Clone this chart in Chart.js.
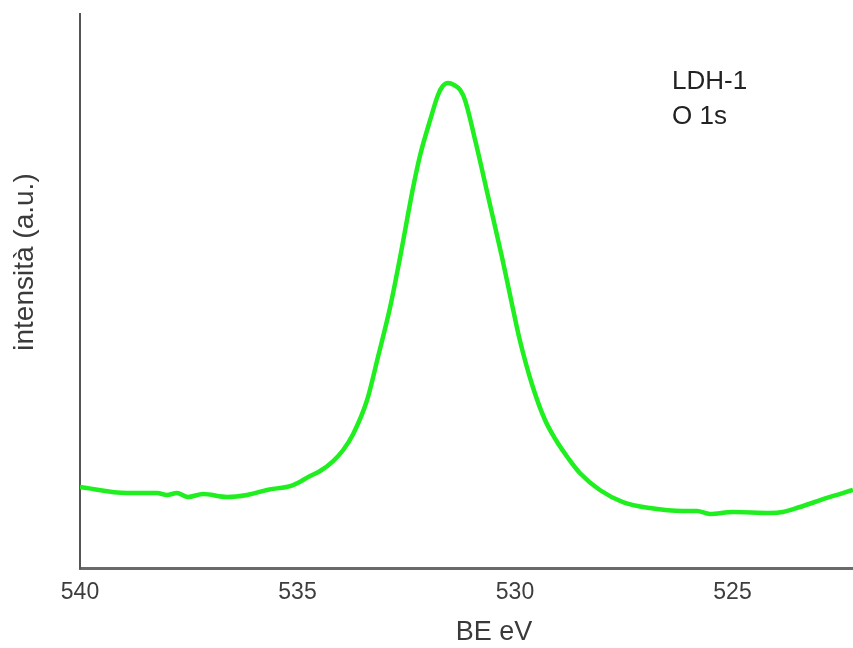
<!DOCTYPE html>
<html>
<head>
<meta charset="utf-8">
<script src="https://cdn.jsdelivr.net/npm/chart.js@4"></script>
<style>
  html, body { margin: 0; padding: 0; background: #fff; }
  #wrap { width: 853px; height: 648px; }
</style>
</head>
<body>
<div id="wrap"><canvas id="c" width="853" height="648"></canvas></div>
<script>
// Binding energy (eV) and intensity (a.u.)
const bindingEnergy = [540.00, 538.92, 538.23, 538.00, 537.77, 537.52, 537.17, 536.62, 536.16, 535.70,
  535.10, 534.71, 534.48, 534.18, 533.95, 533.72, 533.40, 533.15, 532.87, 532.64,
  532.34, 532.18, 531.95, 531.77, 531.66, 531.54, 531.40, 531.26, 531.15, 530.90,
  530.60, 530.30, 530.09, 529.89, 529.59, 529.31, 529.06,
  528.78, 528.51, 528.05, 527.52, 526.90, 526.14, 525.82, 525.52, 524.99, 524.14,
  523.84, 523.45, 522.83, 522.23];
const intensity = [14.62, 13.54, 13.54, 13.18, 13.54, 12.82, 13.36, 12.82, 13.18, 14.08,
  14.98, 16.61, 17.51, 19.31, 21.30, 24.19, 30.32, 38.09, 47.11, 56.14,
  68.77, 74.55, 80.87, 85.38, 87.00, 87.55, 87.18, 86.28, 84.48, 76.71,
  66.43, 56.14, 48.38, 41.16, 32.67, 26.71, 23.10,
  19.86, 17.15, 14.08, 11.91, 10.83, 10.29, 10.29, 9.75, 10.11, 9.93,
  10.11, 11.01, 12.64, 14.08];
const xTickValues = [540, 535, 530, 525];
const xRange = [522.23, 540];
const xTitle = 'BE eV';
const yTitle = 'intensità (a.u.)';
const annotationLines = ['LDH-1', 'O 1s'];

const FONT = "'Liberation Sans', Arial, Helvetica, sans-serif";

const textPlugin = {
  id: 'textPlugin',
  afterDraw(chart) {
    const ctx = chart.ctx;
    ctx.save();
    ctx.fillStyle = '#3a3a3a';
    ctx.font = '28px ' + FONT;
    ctx.textAlign = 'center';
    ctx.textBaseline = 'middle';
    ctx.translate(25, 262);
    ctx.rotate(-Math.PI / 2);
    ctx.fillText(yTitle, 0, 0);
    ctx.restore();

    ctx.save();
    ctx.fillStyle = '#3a3a3a';
    ctx.font = '27px ' + FONT;
    ctx.textAlign = 'center';
    ctx.textBaseline = 'middle';
    ctx.fillText(xTitle, 494, 633);
    ctx.restore();

    ctx.save();
    ctx.fillStyle = '#222';
    ctx.font = '26px ' + FONT;
    ctx.textAlign = 'left';
    ctx.textBaseline = 'alphabetic';
    annotationLines.forEach((t, i) => ctx.fillText(t, 672, 89 + i * 35));
    ctx.restore();
  }
};

new Chart(document.getElementById('c'), {
  type: 'line',
  data: {
    datasets: [{
      data: bindingEnergy.map((x, i) => ({ x: x, y: intensity[i] })),
      borderColor: '#1fee1f',
      borderWidth: 4.5,
      pointRadius: 0,
      fill: false,
      cubicInterpolationMode: 'monotone'
    }]
  },
  options: {
    responsive: false,
    devicePixelRatio: 1,
    animation: false,
    layout: { padding: { top: 14, right: 0, left: 0, bottom: 0 } },
    plugins: { legend: { display: false }, tooltip: { enabled: false } },
    scales: {
      x: {
        type: 'linear',
        reverse: true,
        min: xRange[0],
        max: xRange[1],
        afterBuildTicks(scale) { scale.ticks = xTickValues.map(v => ({ value: v })); },
        afterFit(scale) { scale.height = 80; },
        grid: { display: false, drawTicks: false },
        border: { display: true, color: '#6a6a6a', width: 3 },
        ticks: {
          padding: 11,
          maxRotation: 0,
          autoSkip: false,
          color: '#3d3d3d',
          font: { family: FONT, size: 23 },
          callback: v => String(v)
        }
      },
      y: {
        min: 0,
        max: 100,
        afterFit(scale) { scale.width = 80; },
        grid: { display: false, drawTicks: false },
        border: { display: true, color: '#555', width: 2 },
        ticks: { display: false }
      }
    }
  },
  plugins: [textPlugin]
});
</script>
</body>
</html>
